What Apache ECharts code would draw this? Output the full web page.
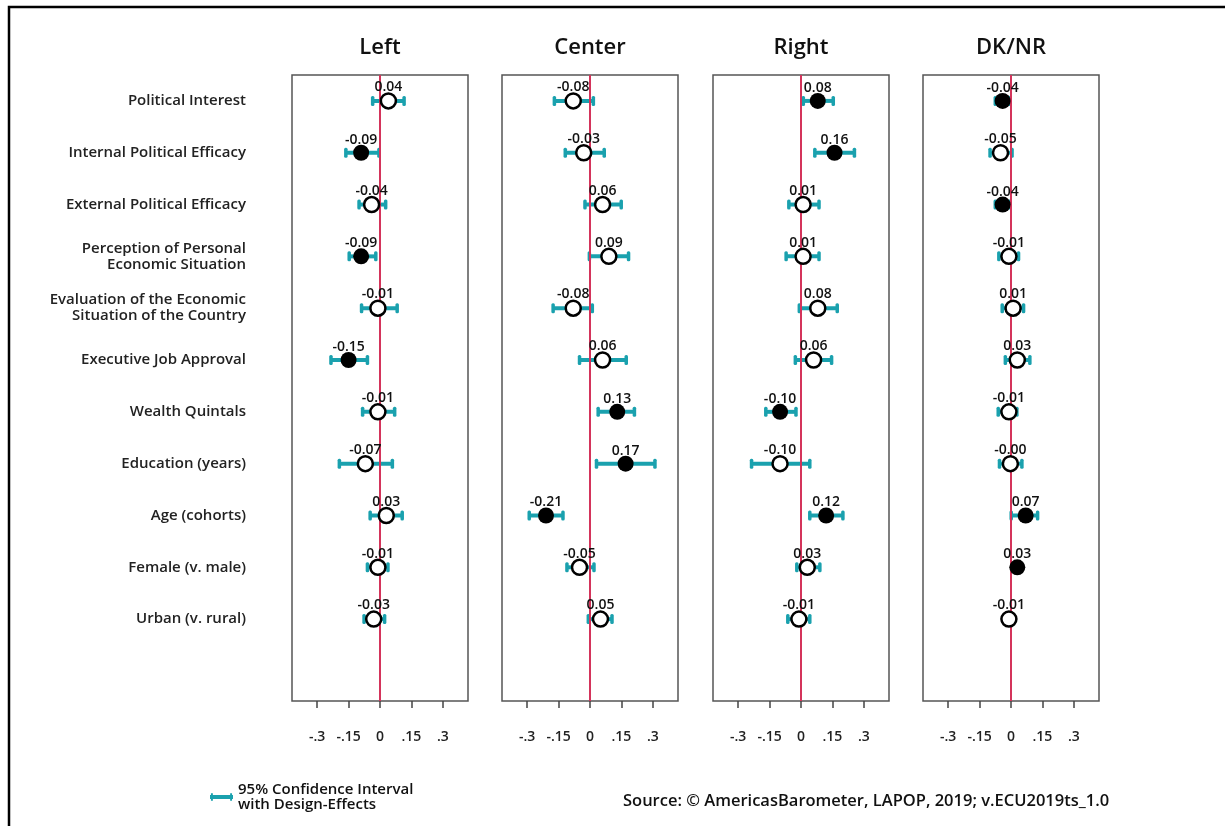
<!DOCTYPE html>
<html>
<head>
<meta charset="utf-8">
<script src="https://cdn.jsdelivr.net/npm/echarts@6/dist/echarts.min.js"></script>
<style>html,body{margin:0;padding:0;background:#fff;}#main{width:1225px;height:826px;}</style>
</head>
<body>
<div id="main"></div>
<script>
// ---- Data ----
const variables = [
  "Political Interest",
  "Internal Political Efficacy",
  "External Political Efficacy",
  "Perception of Personal\nEconomic Situation",
  "Evaluation of the Economic\nSituation of the Country",
  "Executive Job Approval",
  "Wealth Quintals",
  "Education (years)",
  "Age (cohorts)",
  "Female (v. male)",
  "Urban (v. rural)"
];
const panels = ["Left", "Center", "Right", "DK/NR"];
const tickValues = [-0.3, -0.15, 0, 0.15, 0.3];
const tickLabels = ["-.3", "-.15", "0", ".15", ".3"];

const leftEst = [0.04, -0.09, -0.04, -0.09, -0.01, -0.15, -0.01, -0.07, 0.03, -0.01, -0.03];
const leftLo  = [-0.035, -0.163, -0.10, -0.147, -0.088, -0.234, -0.083, -0.194, -0.047, -0.060, -0.076];
const leftHi  = [0.115, -0.005, 0.027, -0.020, 0.082, -0.060, 0.070, 0.059, 0.106, 0.038, 0.022];

const centerEst = [-0.08, -0.03, 0.06, 0.09, -0.08, 0.06, 0.13, 0.17, -0.21, -0.05, 0.05];
const centerLo  = [-0.170, -0.118, -0.024, -0.003, -0.176, -0.050, 0.039, 0.031, -0.290, -0.110, -0.008];
const centerHi  = [0.016, 0.068, 0.149, 0.184, 0.011, 0.173, 0.212, 0.310, -0.129, 0.019, 0.105];

const rightEst = [0.08, 0.16, 0.01, 0.01, 0.08, 0.06, -0.10, -0.10, 0.12, 0.03, -0.01];
const rightLo  = [0.011, 0.066, -0.058, -0.071, -0.008, -0.027, -0.168, -0.236, 0.042, -0.020, -0.063];
const rightHi  = [0.154, 0.255, 0.086, 0.086, 0.173, 0.146, -0.024, 0.042, 0.200, 0.090, 0.042];

const dknrEst = [-0.04, -0.05, -0.04, -0.01, 0.01, 0.03, -0.01, -0.003, 0.07, 0.03, -0.01];
const dknrLo  = [-0.075, -0.100, -0.075, -0.058, -0.042, -0.027, -0.061, -0.055, 0.001, 0.015, -0.025];
const dknrHi  = [-0.008, 0.005, -0.008, 0.036, 0.060, 0.090, 0.028, 0.052, 0.127, 0.045, 0.005];

const panelData = [
  [leftEst, leftLo, leftHi],
  [centerEst, centerLo, centerHi],
  [rightEst, rightLo, rightHi],
  [dknrEst, dknrLo, dknrHi]
];

// ---- Layout / style ----
const gridLefts = [292, 502, 713, 923];
const gridWidth = 176;
const gridTop = 75;
const gridHeight = 626;
const TEAL = '#1aa1ae';
const ZERO = '#d4345b';
const FONT = '"Open Sans", "Noto Sans", sans-serif';
const CI_NAME = '95% Confidence Interval\nwith Design-Effects';

const grids = [], xAxes = [], yAxes = [], series = [], titles = [];

panels.forEach((p, i) => {
  grids.push({
    left: gridLefts[i], top: gridTop, width: gridWidth, height: gridHeight,
    show: true, borderColor: '#555', borderWidth: 1.5, backgroundColor: 'transparent'
  });
  xAxes.push({
    type: 'value', gridIndex: i, min: -0.42, max: 0.42, position: 'bottom',
    splitLine: { show: false },
    axisLine: { show: false },
    axisTick: { show: true, customValues: tickValues, length: 7, lineStyle: { color: '#444', width: 1.5 } },
    axisLabel: {
      customValues: tickValues, margin: 29, fontSize: 14, fontWeight: 600, color: '#222', fontFamily: FONT,
      formatter: v => { const k = tickValues.findIndex(t => Math.abs(t - v) < 1e-9); return k >= 0 ? tickLabels[k] : ''; }
    }
  });
  yAxes.push({
    type: 'value', gridIndex: i, min: 0.5, max: 12.58, inverse: true,
    splitLine: { show: false }, axisLine: { show: false }, axisTick: { show: false },
    axisLabel: i === 0 ? {
      show: true, customValues: variables.map((_, k) => k + 1), margin: 46,
      fontSize: 15, fontWeight: 600, color: '#222', fontFamily: FONT, lineHeight: 16, align: 'right',
      formatter: v => variables[Math.round(v) - 1] || ''
    } : { show: false }
  });
  titles.push({
    text: p, left: gridLefts[i] + gridWidth / 2 - 5, top: 32, textAlign: 'center',
    textStyle: { fontSize: 22, fontWeight: 600, color: '#111', fontFamily: FONT }
  });

  const [est, lo, hi] = panelData[i];
  // Confidence intervals
  series.push({
    name: CI_NAME,
    type: 'custom', xAxisIndex: i, yAxisIndex: i,
    data: est.map((_, k) => [k + 1, lo[k], hi[k]]),
    encode: { y: 0, x: [1, 2] },
    silent: true, z: 2,
    renderItem: (params, api) => {
      const row = api.value(0);
      const a = api.coord([api.value(1), row]);
      const b = api.coord([api.value(2), row]);
      const capH = 10, capW = 3.5;
      return {
        type: 'group',
        children: [
          { type: 'line', shape: { x1: a[0], y1: a[1], x2: b[0], y2: b[1] }, style: { stroke: TEAL, lineWidth: 4 } },
          { type: 'rect', shape: { x: a[0] - capW / 2, y: a[1] - capH / 2, width: capW, height: capH, r: 1.5 }, style: { fill: TEAL } },
          { type: 'rect', shape: { x: b[0] - capW / 2, y: b[1] - capH / 2, width: capW, height: capH, r: 1.5 }, style: { fill: TEAL } }
        ]
      };
    },
    markLine: {
      silent: true, symbol: 'none', animation: false,
      label: { show: false },
      lineStyle: { color: ZERO, width: 2, type: 'solid' },
      data: [{ xAxis: 0 }]
    }
  });
  // Point estimates
  series.push({
    name: 'est' + i,
    type: 'scatter', xAxisIndex: i, yAxisIndex: i, z: 5,
    symbol: 'circle',
    data: est.map((v, k) => {
      const sig = lo[k] > 0 || hi[k] < 0;
      return {
        value: [v, k + 1],
        symbolSize: sig ? 16 : 15,
        itemStyle: sig ? { color: '#000', borderColor: '#000', borderWidth: 0, opacity: 1 }
                       : { color: '#fff', borderColor: '#000', borderWidth: 2.5, opacity: 1 }
      };
    }),
    itemStyle: { opacity: 1 },
    label: {
      show: true, position: 'top', distance: -2,
      fontSize: 14, fontWeight: 600, color: '#111', fontFamily: FONT,
      formatter: p => p.value[0].toFixed(2)
    },
    silent: true
  });
});

titles.push({
  text: 'Source: © AmericasBarometer, LAPOP, 2019; v.ECU2019ts_1.0',
  left: 618, top: 788,
  textStyle: { fontSize: 16.5, fontWeight: 600, color: '#111', fontFamily: FONT }
});

const option = {
  animation: false,
  backgroundColor: '#fff',
  title: titles,
  grid: grids,
  xAxis: xAxes,
  yAxis: yAxes,
  legend: {
    data: [{ name: CI_NAME, icon: 'path://M0,2 L1,2 L1,0 L3,0 L3,2 L21,2 L21,0 L23,0 L23,2 L24,2 L24,6 L23,6 L23,8 L21,8 L21,6 L3,6 L3,8 L1,8 L1,6 L0,6 Z', itemStyle: { color: TEAL } }],
    left: 205, top: 777, itemWidth: 23, itemHeight: 8, itemGap: 8,
    textStyle: { fontSize: 15, fontWeight: 600, color: '#111', fontFamily: FONT, lineHeight: 15 },
    selectedMode: false
  },
  graphic: [{
    type: 'polyline', silent: true,
    shape: { points: [[9, 840], [9, 7], [1240, 7]] },
    style: { stroke: '#000', lineWidth: 2.5, fill: null }
  }],
  series: series
};

const chart = echarts.init(document.getElementById('main'), null, { renderer: 'canvas' });
chart.setOption(option);
</script>
</body>
</html>
